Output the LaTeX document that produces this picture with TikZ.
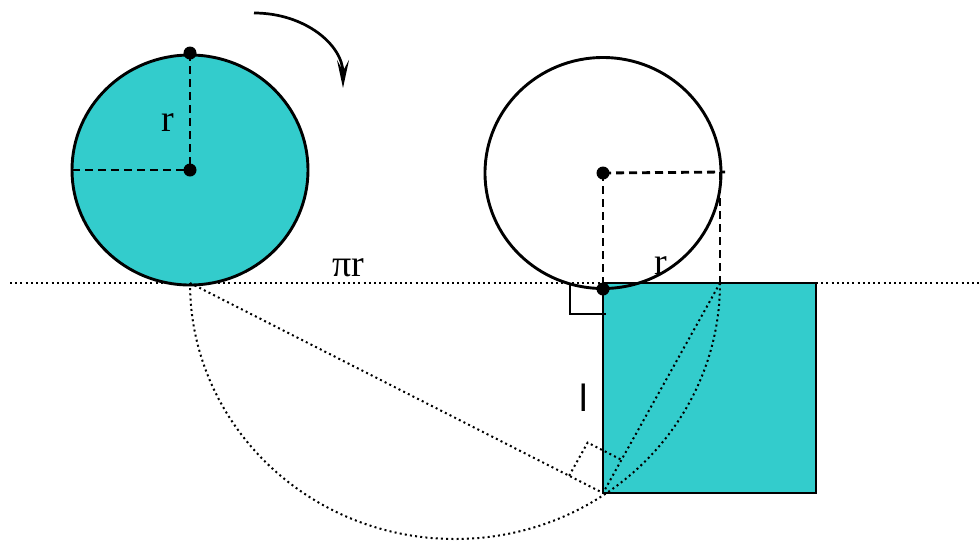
\documentclass[tikz,border=0pt]{standalone}
\usepackage{fontspec}
\setmainfont{Liberation Serif}
\newfontfamily\lsans{Liberation Sans}
\usetikzlibrary{arrows.meta,calc}
\definecolor{turq}{RGB}{51,204,204}
\begin{document}
\begin{tikzpicture}[x=1pt,y=-1pt,
  outl/.style={line width=2.9pt},
  dsh/.style={line width=2.8pt, dash pattern=on 8pt off 5pt},
  dots/.style={line width=2pt, dash pattern=on 2pt off 3.2pt},
  blob/.style={circle, fill=black, inner sep=0pt, minimum size=13pt},
  lbl/.style={font=\fontsize{38}{40}\selectfont, inner sep=0pt}]
\useasboundingbox (0,0) rectangle (979,542);

% key points
\coordinate (L) at (190,170);
\coordinate (Ltop) at (190,53);
\coordinate (Lleft) at (72,170);
\coordinate (Lbot) at (190,283);
\coordinate (R) at (603,173);
\coordinate (Rright) at (725,172);
\coordinate (Rvt) at (720,172);
\coordinate (E) at (720,283);
\coordinate (T) at (603,283);
\coordinate (Tdot) at (603,289);
\coordinate (V) at (603,493);
\coordinate (S2) at (816,493);
\coordinate (HL) at (10,283);
\coordinate (HR) at (979,283);
\coordinate (A1) at (254,13);
\coordinate (A2) at (343,88);

% baseline
\draw[dots] (HL) -- (HR);

% left circle
\draw[outl, fill=turq] (L) ellipse [x radius=118, y radius=115];
\draw[dsh] (Ltop) -- (L);
\draw[dsh] (Lleft) -- (L);
\node[blob] (ctrL) at (L) {};
\node[blob] (topL) at (Ltop) {};

% square fill
\fill[turq] (T) rectangle (S2);

% construction lines
\draw[dots] (Lbot) arc[start angle=180, end angle=0, x radius=265, y radius=256];
\draw[dots] (Lbot) -- (V);
\draw[dots] (E) -- (V);
\coordinate (P1) at ($(V)!38pt!(Lbot)$);
\coordinate (P2) at ($(V)!38pt!(E)$);
\coordinate (PC) at ($(P1)+(P2)-(V)$);
\draw[dots] (P1) -- (PC) -- (P2);

% square outline
\draw[outl] (T) rectangle (S2);

% right angle marker at top
\coordinate (M1) at (570,285);
\coordinate (M2) at (570,314);
\coordinate (M3) at (606,314);
\draw[line width=2.4pt] (M1) -- (M2) -- (M3);

% right circle
\draw[outl] (R) ellipse [x radius=118, y radius=115.5];
\draw[dsh] (R) -- (Rright);
\draw[dsh] (Rvt) -- (E);
\draw[dsh] (R) -- (T);
\node[blob] (ctrR) at (R) {};
\node[blob] (tan) at (Tdot) {};

% rotation arrow
\draw[line width=2.7pt, -{Stealth[length=28pt,width=12pt,inset=11pt]}] (A1) .. controls (305,13) and (343,45) .. (A2);

% labels
\node[lbl] (lr) at (168,123) {r};
\node[lbl] (lpir) at (348,268) {πr};
\node[lbl] (lr2) at (661,266) {r};
\node[lbl, font=\lsans\fontsize{38}{40}\selectfont] (ll) at (584,398) {l};
\end{tikzpicture}
\end{document}
